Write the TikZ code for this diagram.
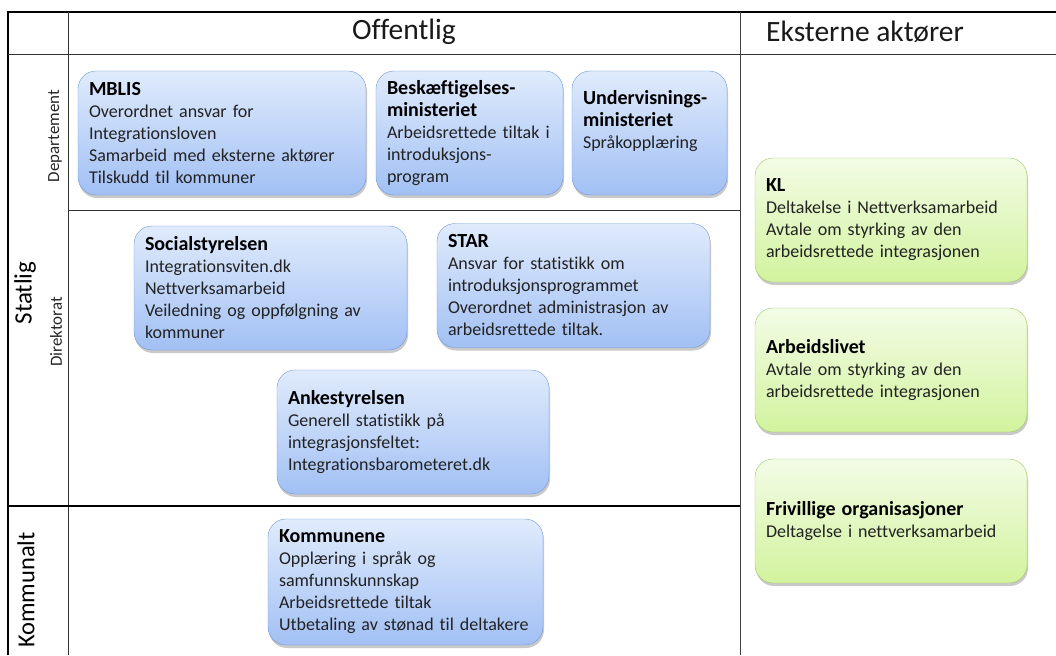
\documentclass[tikz,border=0pt]{standalone}
\usepackage{fontspec}
\setmainfont[Ligatures=NoCommon]{Carlito}
\usetikzlibrary{shadows}

\definecolor{bluetop}{RGB}{224,235,252}
\definecolor{bluebot}{RGB}{162,192,244}
\definecolor{blueline}{RGB}{112,152,214}
\definecolor{greentop}{RGB}{243,252,230}
\definecolor{greenbot}{RGB}{210,243,158}
\definecolor{greenline}{RGB}{160,198,102}
\definecolor{bodytext}{RGB}{34,34,34}

\newcommand{\boxtitle}[1]{{\fontsize{20}{24}\selectfont\bfseries\color{black}#1}}

\begin{document}
\begin{tikzpicture}[
  x=1pt, y=-1pt,
  box/.style={rectangle, rounded corners=18pt, inner xsep=11pt, inner ysep=4pt, align=left,
    minimum height=124pt, text=bodytext, font=\fontsize{18}{22}\selectfont,
    drop shadow={shadow xshift=1pt, shadow yshift=-3pt, opacity=0.3, fill=black!70}},
  bluebox/.style={box, draw=blueline, top color=bluetop, bottom color=bluebot},
  greenbox/.style={box, draw=greenline, top color=greentop, bottom color=greenbot},
  header/.style={font=\fontsize{29.5}{34}\selectfont, text=black!90},
  rowlabel/.style={rotate=90, font=\fontsize{25}{30}\selectfont},
  sublabel/.style={rotate=90, font=\fontsize{17}{20}\selectfont, text=black!85}
]
  \useasboundingbox (0,0) rectangle (1056,655);

  % table grid
  \draw[line width=2pt] (8,655) -- (8,12) -- (1056,12);
  \draw[line width=1pt, black!80] (8,55) -- (1056,55);
  \draw[line width=1pt, black!80] (68,12) -- (68,655);
  \draw[line width=1pt, black!75] (740,12) -- (740,655);
  \draw[line width=0.8pt, black!80] (68,210) -- (740,210);
  \draw[line width=1.2pt] (8,506) -- (740,506);

  % headers and row labels
  \node[header] (offentlig) at (404,32) {Offentlig};
  \node[header] (eksterne) at (865,32) {Eksterne aktører};
  \node[rowlabel] (statlig) at (25,293) {Statlig};
  \node[rowlabel, font=\fontsize{24.5}{30}\selectfont] (kommunalt) at (26,590) {Kommunalt};
  \node[sublabel] (departement) at (55,136) {Departement};
  \node[sublabel] (direktorat) at (56,332) {Direktorat};

  % departement
  \node[bluebox, text width=266pt] (mblis) at (222,133)
    {\boxtitle{MBLIS}\\ Overordnet ansvar for\\ Integrationsloven\\ Samarbeid med eksterne aktører\\ Tilskudd til kommuner};
  \node[bluebox, text width=165pt] (beskaeft) at (469.5,133)
    {\boxtitle{Beskæftigelses-}\\ \boxtitle{ministeriet}\\ \mbox{Arbeidsrettede tiltak i}\\ introduksjons-\\ program};
  \node[bluebox, text width=133pt] (underv) at (649.5,133)
    {\boxtitle{Undervisnings-}\\ \boxtitle{ministeriet}\\ Språkopplæring\\[6pt]\mbox{}};

  % direktorat
  \node[bluebox, text width=251pt] (sosial) at (270.5,288)
    {\boxtitle{Socialstyrelsen}\\ Integrationsviten.dk\\ Nettverksamarbeid\\ Veiledning og oppfølgning av\\ kommuner};
  \node[bluebox, text width=251pt] (star) at (573.5,285.5)
    {\boxtitle{STAR}\\ Ansvar for statistikk om\\ introduksjonsprogrammet\\ Overordnet administrasjon av\\ arbeidsrettede tiltak.};
  \node[bluebox, text width=250pt] (anke) at (413,432)
    {\boxtitle{Ankestyrelsen}\\ Generell statistikk på\\ integrasjonsfeltet:\\ Integrationsbarometeret.dk};

  % kommunalt
  \node[bluebox, text width=253pt, minimum height=126pt] (kommunene) at (405.5,582)
    {\boxtitle{Kommunene}\\ Opplæring i språk og\\ samfunnskunnskap\\ Arbeidsrettede tiltak\\ \mbox{Utbetaling av stønad til deltakere}};

  % eksterne aktorer
  \node[greenbox, text width=250pt] (kl) at (891,220)
    {\boxtitle{KL}\\ Deltakelse i Nettverksamarbeid\\ Avtale om styrking av den\\ arbeidsrettede integrasjonen};
  \node[greenbox, text width=250pt] (arbliv) at (891,370)
    {\boxtitle{Arbeidslivet}\\ Avtale om styrking av den\\ arbeidsrettede integrasjonen};
  \node[greenbox, text width=250pt] (frivillig) at (891,521)
    {\boxtitle{Frivillige organisasjoner}\\ Deltagelse i nettverksamarbeid};
\end{tikzpicture}
\end{document}
